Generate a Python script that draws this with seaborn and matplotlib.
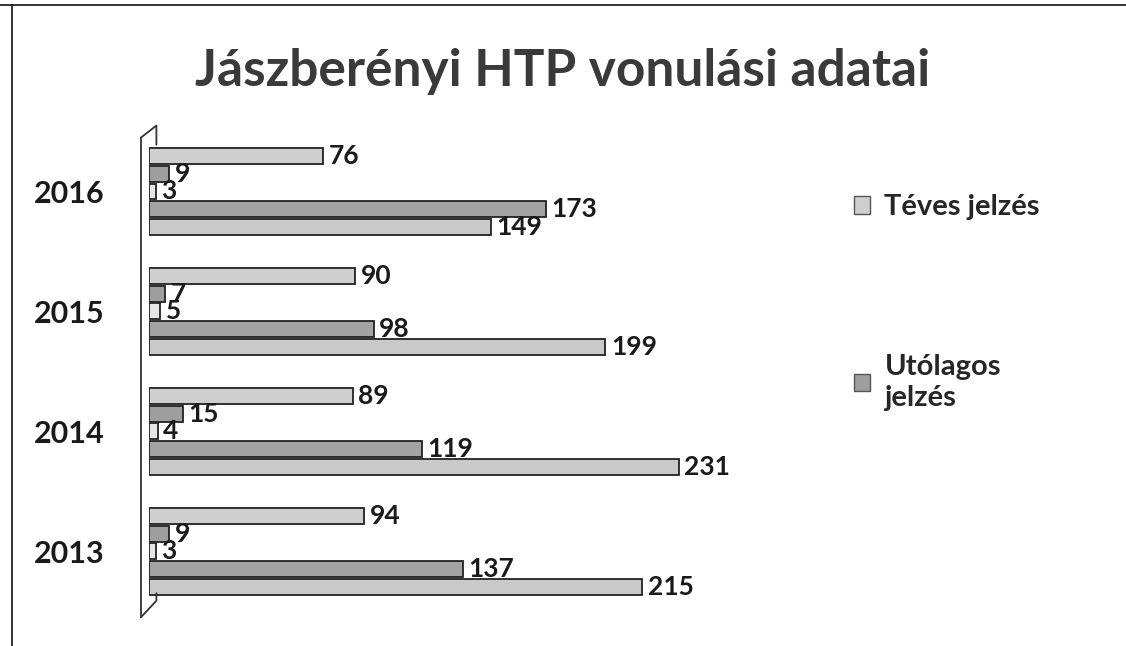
import pandas as pd
import matplotlib.pyplot as plt
from matplotlib.lines import Line2D
from matplotlib.patches import Patch
import seaborn as sns

years = ['2016', '2015', '2014', '2013']
series_names = ['Téves jelzés', 'Utólagos jelzés', 'S3', 'S4', 'S5']
teves = [76, 90, 89, 94]
utolagos = [9, 7, 15, 9]
s3 = [3, 5, 4, 3]
s4 = [173, 98, 119, 137]
s5 = [149, 199, 231, 215]
colors = ['#cfcfcf', '#9e9e9e', '#e6e6e6', '#a3a3a3', '#c9c9c9']

rows = []
for name, vals in zip(series_names, [teves, utolagos, s3, s4, s5]):
    for y, v in zip(years, vals):
        rows.append({'year': y, 'series': name, 'value': v})
df = pd.DataFrame(rows)

sns.set_style('white')
plt.rcParams['font.family'] = ['Lato', 'DejaVu Sans']

fig = plt.figure(figsize=(11.26, 6.46), dpi=100)
ax = fig.add_axes([0.132, 0.035, 0.53, 0.78])

sns.barplot(data=df, y='year', x='value', hue='series', order=years,
            hue_order=series_names, palette=colors, orient='h',
            width=0.74, gap=0.1, edgecolor='#222222', linewidth=1.3,
            legend=False, ax=ax)

for c in ax.containers:
    ax.bar_label(c, fontsize=19, fontweight='bold', padding=4, color='#1a1a1a')

ax.set_xlim(0, 260)
ax.set_ylim(3.6, -0.6)
ax.set_xlabel('')
ax.set_ylabel('')
ax.set_xticks([])
ax.tick_params(axis='y', length=0, pad=32)
for lab in ax.get_yticklabels():
    lab.set_fontsize(22)
    lab.set_fontweight('bold')
    lab.set_color('#1a1a1a')
for s in ['top', 'right', 'bottom', 'left']:
    ax.spines[s].set_visible(False)

# 3D wall outline
wall = dict(transform=ax.transAxes, color='#333333', lw=1.3, clip_on=False)
ax.plot([-0.013, -0.013], [0.012, 0.964], **wall)
ax.plot([-0.013, 0.013, 0.013], [0.964, 0.988, 0.95], **wall)
ax.plot([-0.013, 0.013, 0.013], [0.012, 0.045, 0.06], **wall)

fig.text(0.5, 0.89, 'Jászberényi HTP vonulási adatai', ha='center', va='center',
         fontsize=37, fontweight='bold', color='#3a3a3a')

handles = [Patch(facecolor=colors[0], edgecolor='#555555'),
           Patch(facecolor=colors[1], edgecolor='#555555')]
fig.legend(handles, ['Téves jelzés', 'Utólagos\njelzés'], loc='upper left',
           bbox_to_anchor=(0.735, 0.74), frameon=False,
           prop={'weight': 'bold', 'size': 21},
           labelspacing=4.6, handlelength=0.55, handleheight=0.55, handletextpad=0.5)

# outer frame (top and left only, as in the scan)
fig.add_artist(Line2D([0.0, 1.0], [0.992, 0.992], transform=fig.transFigure, color='#222222', lw=1.3))
fig.add_artist(Line2D([0.011, 0.011], [0.0, 0.992], transform=fig.transFigure, color='#222222', lw=1.3))

fig.savefig('out.png', dpi=100)
